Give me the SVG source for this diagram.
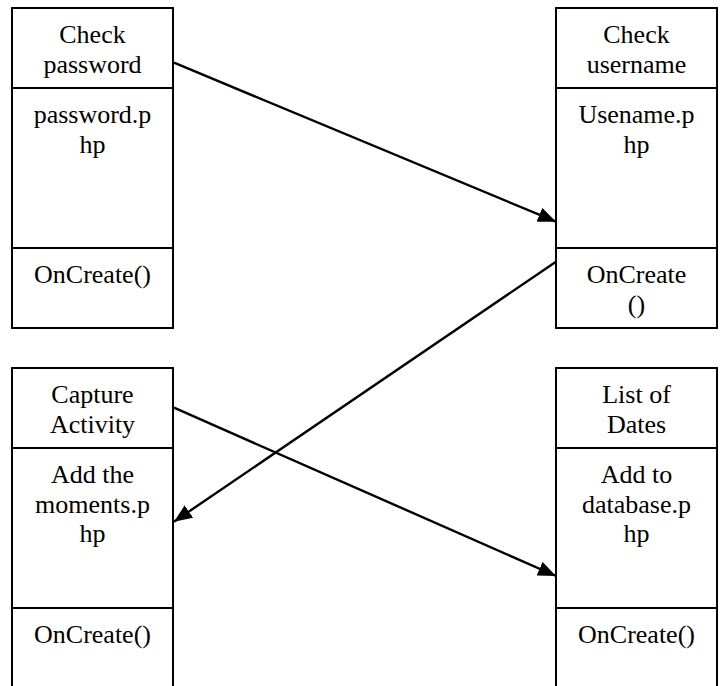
<svg xmlns="http://www.w3.org/2000/svg" width="725" height="686" viewBox="0 0 725 686">
<style>
.box{fill:#fff;stroke:#000;stroke-width:2}
.div{stroke:#000;stroke-width:2}
.t{font-family:"Liberation Serif","Times New Roman",serif;font-size:26px;fill:#000;text-anchor:middle}
.c{stroke:#000;stroke-width:2.4;fill:none;marker-end:url(#ah)}
</style>
<defs>
<marker id="ah" markerUnits="userSpaceOnUse" markerWidth="19" markerHeight="15" refX="18" refY="7.5" orient="auto" viewBox="0 0 19 15">
<path d="M0,0 L18,7.5 L0,15 Z" fill="#000"/>
</marker>
</defs>
<rect width="725" height="686" fill="#fff"/>
<g id="check-password">
<rect class="box" x="12" y="8" width="161" height="320"/>
<line class="div" x1="12" y1="88" x2="173" y2="88"/>
<line class="div" x1="12" y1="248" x2="173" y2="248"/>
<text class="t" x="92.5" y="43">Check</text>
<text class="t" x="92.5" y="72.5">password</text>
<text class="t" x="92.5" y="123">password.p</text>
<text class="t" x="92.5" y="152.5">hp</text>
<text class="t" x="92.5" y="283">OnCreate()</text>
</g>
<g id="check-username">
<rect class="box" x="556" y="8" width="161" height="320"/>
<line class="div" x1="556" y1="88" x2="717" y2="88"/>
<line class="div" x1="556" y1="248" x2="717" y2="248"/>
<text class="t" x="636.5" y="43">Check</text>
<text class="t" x="636.5" y="72.5">username</text>
<text class="t" x="636.5" y="123">Usename.p</text>
<text class="t" x="636.5" y="152.5">hp</text>
<text class="t" x="636.5" y="283">OnCreate</text>
<text class="t" x="636.5" y="312.5">()</text>
</g>
<g id="capture-activity">
<rect class="box" x="12" y="368" width="161" height="330"/>
<line class="div" x1="12" y1="448" x2="173" y2="448"/>
<line class="div" x1="12" y1="608" x2="173" y2="608"/>
<text class="t" x="92.5" y="403">Capture</text>
<text class="t" x="92.5" y="432.5">Activity</text>
<text class="t" x="92.5" y="483">Add the</text>
<text class="t" x="92.5" y="512.5">moments.p</text>
<text class="t" x="92.5" y="542">hp</text>
<text class="t" x="92.5" y="643">OnCreate()</text>
</g>
<g id="list-of-dates">
<rect class="box" x="556" y="368" width="161" height="330"/>
<line class="div" x1="556" y1="448" x2="717" y2="448"/>
<line class="div" x1="556" y1="608" x2="717" y2="608"/>
<text class="t" x="636.5" y="403">List of</text>
<text class="t" x="636.5" y="432.5">Dates</text>
<text class="t" x="636.5" y="483">Add to</text>
<text class="t" x="636.5" y="512.5">database.p</text>
<text class="t" x="636.5" y="542">hp</text>
<text class="t" x="636.5" y="643">OnCreate()</text>
</g>
<g id="connectors">
<line class="c" x1="174" y1="62.7" x2="556" y2="221.7"/>
<line class="c" x1="556" y1="261.7" x2="174" y2="521.7"/>
<line class="c" x1="174" y1="407.7" x2="556" y2="576"/>
</g>
</svg>
